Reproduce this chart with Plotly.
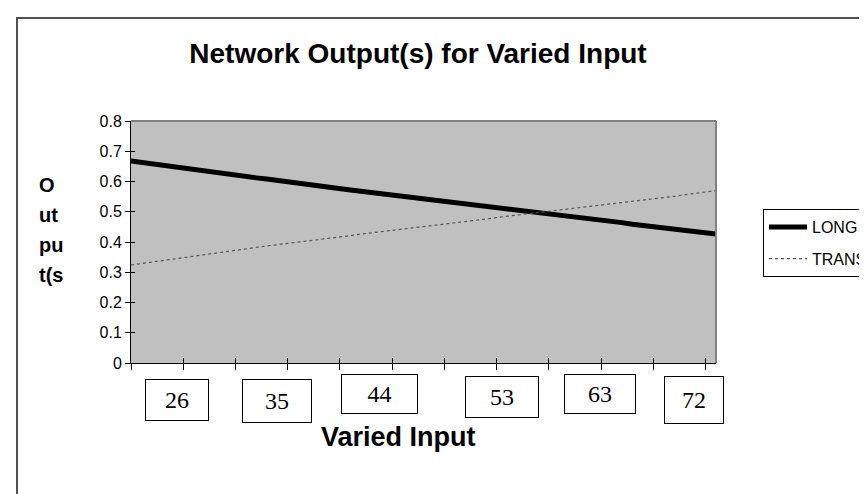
import plotly.graph_objects as go

# ---------------- data ----------------
x_index = list(range(57))
long_values = [0.668, 0.663, 0.659, 0.654, 0.649, 0.645, 0.640, 0.635, 0.631, 0.626,
               0.621, 0.617, 0.612, 0.608, 0.603, 0.599, 0.594, 0.590, 0.585, 0.581,
               0.577, 0.572, 0.568, 0.564, 0.559, 0.555, 0.551, 0.547, 0.542, 0.538,
               0.534, 0.530, 0.526, 0.522, 0.518, 0.513, 0.509, 0.505, 0.501, 0.497,
               0.493, 0.489, 0.484, 0.480, 0.476, 0.472, 0.468, 0.464, 0.459, 0.455,
               0.451, 0.447, 0.443, 0.438, 0.434, 0.430, 0.426]
trans_values = [0.324, 0.329, 0.334, 0.339, 0.344, 0.349, 0.354, 0.359, 0.364, 0.369,
                0.374, 0.378, 0.382, 0.387, 0.391, 0.395, 0.400, 0.404, 0.408, 0.413,
                0.417, 0.421, 0.426, 0.430, 0.434, 0.438, 0.442, 0.446, 0.451, 0.455,
                0.459, 0.463, 0.468, 0.472, 0.476, 0.481, 0.485, 0.489, 0.494, 0.498,
                0.502, 0.506, 0.510, 0.514, 0.518, 0.523, 0.527, 0.531, 0.535, 0.539,
                0.543, 0.547, 0.551, 0.556, 0.560, 0.564, 0.570]
series_names = ["LONG", "TRANS"]
input_labels = ["26", "35", "44", "53", "63", "72"]
y_tick_values = [0, 0.1, 0.2, 0.3, 0.4, 0.5, 0.6, 0.7, 0.8]
y_tick_labels = ["0", "0.1", "0.2", "0.3", "0.4", "0.5", "0.6", "0.7", "0.8"]

# ---------------- layout constants ----------------
W, H = 867, 494
PL, PR, PT, PB = 123, 708, 113, 355
label_box_x = [4.4, 14.0, 23.8, 35.5, 44.9, 53.9]      # x-axis units
label_box_yc = [392, 393, 386, 389, 386, 392]            # px from top
label_box_w = [62, 68, 75, 72, 70, 58]
label_box_h = [40, 42, 38, 40, 38, 46]
SANS = "Arial, Liberation Sans, Helvetica, sans-serif"
SERIF = "Times New Roman, Liberation Serif, serif"


def py(px):
    return (PB - px) / (PB - PT)


def pxp(px):
    return (px - PL) / (PR - PL)


fig = go.Figure()
fig.add_trace(go.Scatter(x=x_index, y=long_values, name=series_names[0], mode="lines",
                         line=dict(color="black", width=5), legendgroup="a"))
fig.add_trace(go.Scatter(x=x_index, y=trans_values, name=series_names[1], mode="lines",
                         line=dict(color="#555555", width=1.2, dash="dot"), legendgroup="b"))
# overlay axes only used to draw the inner halves of crossing tick marks
fig.add_trace(go.Scatter(x=[0], y=[0], xaxis="x2", yaxis="y2", mode="markers",
                         marker=dict(opacity=0), showlegend=False, hoverinfo="skip"))

axis_font = dict(family=SANS, size=16, color="black")
fig.update_layout(
    width=W, height=H,
    margin=dict(l=PL, r=W - PR, t=PT, b=H - PB, autoexpand=False),
    paper_bgcolor="white",
    plot_bgcolor="#C0C0C0",
    showlegend=True,
    xaxis=dict(range=[0, 56], tickmode="array", tickvals=list(range(0, 56, 5)),
               showticklabels=False, ticks="outside", ticklen=6, tickcolor="black",
               showline=True, linecolor="black", linewidth=1, showgrid=False,
               zeroline=False, fixedrange=True),
    yaxis=dict(range=[0, 0.8], tickmode="array", tickvals=y_tick_values,
               ticktext=y_tick_labels, ticks="outside", ticklen=5, tickcolor="black",
               showline=True, linecolor="black", linewidth=1, showgrid=False,
               zeroline=False, tickfont=axis_font, fixedrange=True),
    xaxis2=dict(range=[0, 56], overlaying="x", side="bottom", tickmode="array",
                tickvals=list(range(0, 56, 5)), ticks="inside", ticklen=5,
                tickcolor="black", showticklabels=False, showgrid=False,
                zeroline=False, showline=False),
    yaxis2=dict(range=[0, 0.8], overlaying="y", side="left", tickmode="array",
                tickvals=y_tick_values, ticks="inside", ticklen=4, tickcolor="black",
                showticklabels=False, showgrid=False, zeroline=False, showline=False),
    title=dict(text="<b>Network Output(s) for Varied Input</b>",
               font=dict(family=SANS, size=28, color="black"),
               x=pxp(410), xref="paper", xanchor="center",
               y=1 - 45 / H, yref="container", yanchor="middle"),
    legend=dict(x=pxp(755), y=py(201), xanchor="left", yanchor="top",
                bgcolor="white", bordercolor="black", borderwidth=1,
                font=dict(family=SANS, size=16, color="black"),
                itemwidth=38, tracegroupgap=8, traceorder="grouped"),
    font=dict(family=SANS, color="black"),
)

shapes = [
    # outer chart border
    dict(type="rect", xref="paper", yref="paper", x0=pxp(9), x1=pxp(W + 20),
         y0=py(H + 20), y1=py(10), line=dict(color="#505050", width=2),
         fillcolor="rgba(0,0,0,0)", layer="below"),
    # plot area border (gray top/right)
    dict(type="line", xref="paper", yref="paper", x0=0, x1=1, y0=1, y1=1,
         line=dict(color="#808080", width=2)),
    dict(type="line", xref="paper", yref="paper", x0=1, x1=1, y0=0, y1=1,
         line=dict(color="#808080", width=2)),
]
fig.update_layout(shapes=shapes)

annotations = []
# y-axis title broken into lines
for txt, yc in zip(["O", "ut", "pu", "t(s"], [177, 207, 237, 267]):
    annotations.append(dict(text="<b>%s</b>" % txt, xref="paper", yref="paper",
                            x=pxp(29), y=py(yc), xanchor="left", yanchor="middle",
                            showarrow=False,
                            font=dict(family=SANS, size=20, color="black")))
# x-axis title
annotations.append(dict(text="<b>Varied Input</b>", xref="paper", yref="paper",
                        x=pxp(390), y=py(429), xanchor="center", yanchor="middle",
                        showarrow=False,
                        font=dict(family=SANS, size=27, color="black")))
# boxed category labels
for lab, xv, yc, bw, bh in zip(input_labels, label_box_x, label_box_yc, label_box_w, label_box_h):
    annotations.append(dict(text=lab, xref="x", yref="paper", x=xv, y=py(yc),
                            xanchor="center", yanchor="middle", showarrow=False,
                            width=bw, height=bh, bgcolor="white",
                            bordercolor="black", borderwidth=1, borderpad=0,
                            font=dict(family=SERIF, size=24, color="black")))
fig.update_layout(annotations=annotations)

fig.write_html("out.html")
